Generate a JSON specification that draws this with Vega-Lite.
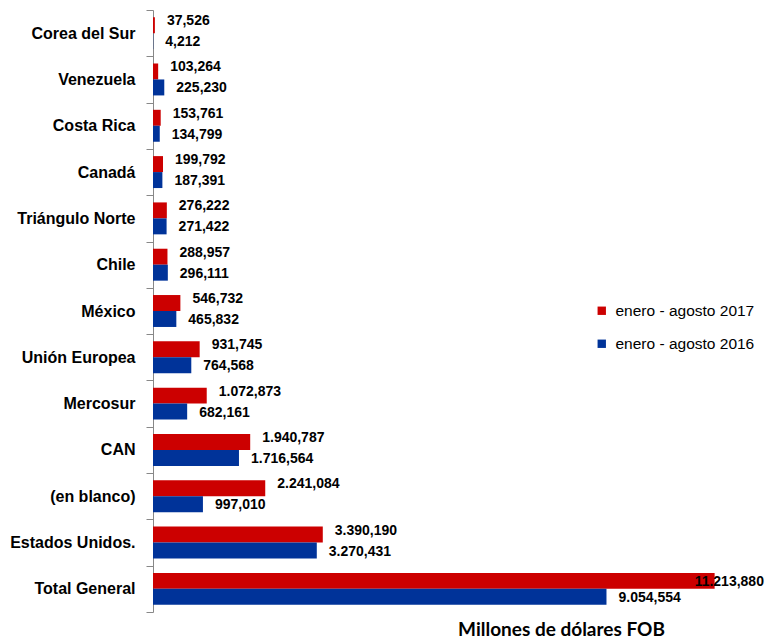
{
  "$schema": "https://vega.github.io/schema/vega-lite/v6.json",
  "autosize": {"type": "none"},
  "padding": {"left": 153, "top": 10, "right": 13, "bottom": 26},
  "width": 601,
  "height": 602,
  "background": "white",
  "config": {"view": {"stroke": null}},
  "data": {"values": [
    {"pais": "Corea del Sur", "serie": "enero - agosto 2017", "valor": 37526, "etiqueta": "37,526"},
    {"pais": "Corea del Sur", "serie": "enero - agosto 2016", "valor": 4212, "etiqueta": "4,212"},
    {"pais": "Venezuela", "serie": "enero - agosto 2017", "valor": 103264, "etiqueta": "103,264"},
    {"pais": "Venezuela", "serie": "enero - agosto 2016", "valor": 225230, "etiqueta": "225,230"},
    {"pais": "Costa Rica", "serie": "enero - agosto 2017", "valor": 153761, "etiqueta": "153,761"},
    {"pais": "Costa Rica", "serie": "enero - agosto 2016", "valor": 134799, "etiqueta": "134,799"},
    {"pais": "Canadá", "serie": "enero - agosto 2017", "valor": 199792, "etiqueta": "199,792"},
    {"pais": "Canadá", "serie": "enero - agosto 2016", "valor": 187391, "etiqueta": "187,391"},
    {"pais": "Triángulo Norte", "serie": "enero - agosto 2017", "valor": 276222, "etiqueta": "276,222"},
    {"pais": "Triángulo Norte", "serie": "enero - agosto 2016", "valor": 271422, "etiqueta": "271,422"},
    {"pais": "Chile", "serie": "enero - agosto 2017", "valor": 288957, "etiqueta": "288,957"},
    {"pais": "Chile", "serie": "enero - agosto 2016", "valor": 296111, "etiqueta": "296,111"},
    {"pais": "México", "serie": "enero - agosto 2017", "valor": 546732, "etiqueta": "546,732"},
    {"pais": "México", "serie": "enero - agosto 2016", "valor": 465832, "etiqueta": "465,832"},
    {"pais": "Unión Europea", "serie": "enero - agosto 2017", "valor": 931745, "etiqueta": "931,745"},
    {"pais": "Unión Europea", "serie": "enero - agosto 2016", "valor": 764568, "etiqueta": "764,568"},
    {"pais": "Mercosur", "serie": "enero - agosto 2017", "valor": 1072873, "etiqueta": "1.072,873"},
    {"pais": "Mercosur", "serie": "enero - agosto 2016", "valor": 682161, "etiqueta": "682,161"},
    {"pais": "CAN", "serie": "enero - agosto 2017", "valor": 1940787, "etiqueta": "1.940,787"},
    {"pais": "CAN", "serie": "enero - agosto 2016", "valor": 1716564, "etiqueta": "1.716,564"},
    {"pais": "(en blanco)", "serie": "enero - agosto 2017", "valor": 2241084, "etiqueta": "2.241,084"},
    {"pais": "(en blanco)", "serie": "enero - agosto 2016", "valor": 997010, "etiqueta": "997,010"},
    {"pais": "Estados Unidos.", "serie": "enero - agosto 2017", "valor": 3390190, "etiqueta": "3.390,190"},
    {"pais": "Estados Unidos.", "serie": "enero - agosto 2016", "valor": 3270431, "etiqueta": "3.270,431"},
    {"pais": "Total General", "serie": "enero - agosto 2017", "valor": 11213880, "etiqueta": "11.213,880"},
    {"pais": "Total General", "serie": "enero - agosto 2016", "valor": 9054554, "etiqueta": "9.054,554"}
  ]},
  "encoding": {
    "y": {
      "field": "pais", "type": "nominal", "sort": null,
      "scale": {"paddingInner": 0, "paddingOuter": 0},
      "axis": {
        "title": null,
        "tickBand": "extent",
        "tickSize": 7,
        "tickColor": "#888888",
        "domainColor": "#888888",
        "labelFont": "Liberation Sans",
        "labelFontWeight": "bold",
        "labelFontSize": 16,
        "labelColor": "#000000",
        "labelPadding": 11
      }
    },
    "yOffset": {
      "field": "serie", "type": "nominal",
      "sort": ["enero - agosto 2017", "enero - agosto 2016"],
      "scale": {"paddingInner": 0, "paddingOuter": 0.45}
    },
    "x": {
      "field": "valor", "type": "quantitative",
      "scale": {"domain": [0, 12000000], "nice": false},
      "axis": {
        "title": "Millones de dólares FOB",
        "labels": false, "ticks": false, "domain": false, "grid": false,
        "titleFont": "Lato", "titleFontWeight": "bold", "titleFontSize": 19,
        "titleColor": "#000000",
        "titleX": 408, "titleY": 23, "titleAlign": "center", "titleBaseline": "alphabetic"
      }
    }
  },
  "layer": [
    {
      "mark": {"type": "bar"},
      "encoding": {
        "color": {
          "field": "serie", "type": "nominal",
          "sort": ["enero - agosto 2017", "enero - agosto 2016"],
          "scale": {"domain": ["enero - agosto 2017", "enero - agosto 2016"], "range": ["#CC0000", "#003399"]},
          "legend": {
            "title": null,
            "orient": "none",
            "legendX": 441,
            "legendY": 293,
            "symbolType": "square",
            "symbolSize": 70,
            "symbolStrokeWidth": 0,
            "labelFont": "Liberation Sans",
            "labelFontSize": 15.5,
            "labelColor": "#000000",
            "rowPadding": 16,
            "labelOffset": 6
          }
        }
      }
    },
    {
      "transform": [{"filter": "datum.serie == 'enero - agosto 2017' && datum.pais != 'Total General'"}],
      "mark": {"type": "text", "align": "left", "baseline": "middle", "dx": 12, "dy": -4, "font": "Liberation Sans", "fontWeight": "bold", "fontSize": 14, "color": "#000000"},
      "encoding": {"text": {"field": "etiqueta", "type": "nominal"}}
    },
    {
      "transform": [{"filter": "datum.serie == 'enero - agosto 2016'"}],
      "mark": {"type": "text", "align": "left", "baseline": "middle", "dx": 12, "dy": 1, "font": "Liberation Sans", "fontWeight": "bold", "fontSize": 14, "color": "#000000"},
      "encoding": {"text": {"field": "etiqueta", "type": "nominal"}}
    },
    {
      "transform": [{"filter": "datum.serie == 'enero - agosto 2017' && datum.pais == 'Total General'"}],
      "mark": {"type": "text", "align": "left", "baseline": "middle", "dx": -20, "dy": 1, "font": "Liberation Sans", "fontWeight": "bold", "fontSize": 14, "color": "#000000"},
      "encoding": {"text": {"field": "etiqueta", "type": "nominal"}}
    }
  ]
}
